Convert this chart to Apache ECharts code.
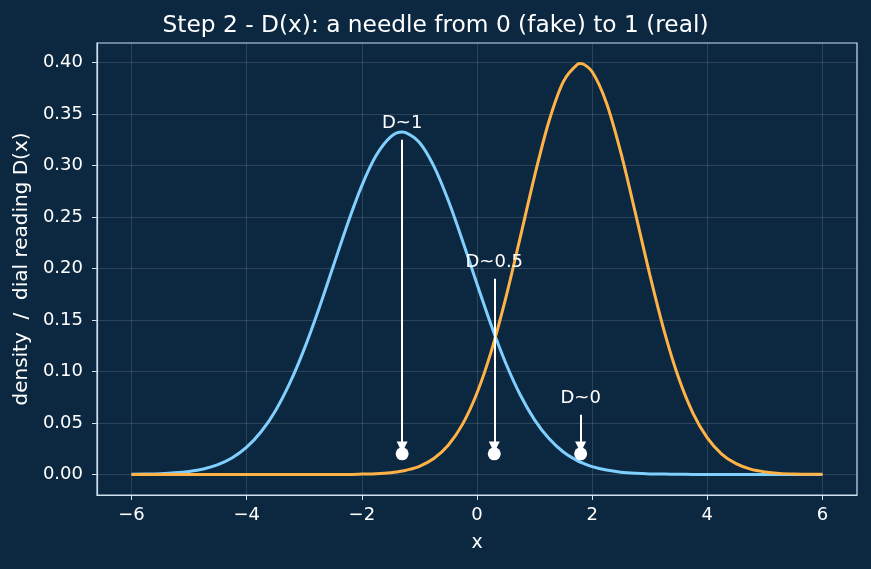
<!DOCTYPE html>
<html>
<head>
<meta charset="utf-8">
<title>Step 2 - D(x)</title>
<script src="https://cdn.jsdelivr.net/npm/echarts@6/dist/echarts.min.js"></script>
<style>
  html, body { margin: 0; padding: 0; background: #0c2840; }
  #chart { width: 871px; height: 569px; }
</style>
</head>
<body>
<div id="chart"></div>
<script>
// sample positions along x (plus the two peaks)
const xValues = [
  -6, -5.75, -5.5, -5.25, -5, -4.75, -4.5, -4.25, -4, -3.75, -3.5, -3.25, -3,
  -2.75, -2.5, -2.25, -2, -1.75, -1.5, -1.3, -1.25, -1, -0.75, -0.5, -0.25, 0,
  0.25, 0.5, 0.75, 1, 1.25, 1.5, 1.75, 1.8, 2, 2.25, 2.5, 2.75, 3, 3.25, 3.5,
  3.75, 4, 4.25, 4.5, 4.75, 5, 5.25, 5.5, 5.75, 6
];
// fake distribution (blue)
const fakeDensity = [
  0.0002, 0.0003, 0.0007, 0.0015, 0.0029, 0.0053, 0.0095, 0.0162, 0.0265, 0.0414, 0.0619, 0.0888, 0.1219,
  0.1602, 0.2016, 0.2430, 0.2804, 0.3098, 0.3278, 0.3324, 0.3321, 0.3222, 0.2993, 0.2662, 0.2267, 0.1849,
  0.1443, 0.1079, 0.0773, 0.0530, 0.0348, 0.0218, 0.0131, 0.0118, 0.0076, 0.0042, 0.0022, 0.0011, 0.0005, 0.0003, 0.0001,
  0, 0, 0, 0, 0, 0, 0, 0, 0, 0
];
// real distribution (orange)
const realDensity = [
  0, 0, 0, 0, 0, 0, 0, 0, 0, 0, 0, 0, 0,
  0, 0, 0, 0.0003, 0.0007, 0.0017, 0.0033, 0.0038, 0.0079, 0.0154, 0.0283, 0.0488, 0.0790,
  0.1200, 0.1714, 0.2299, 0.2897, 0.3429, 0.3814, 0.3984, 0.3989, 0.3910, 0.3605, 0.3122, 0.2541, 0.1942, 0.1394, 0.0940,
  0.0596, 0.0355, 0.0198, 0.0104, 0.0051, 0.0024, 0.0010, 0.0004, 0.0002, 0.0001
];
// needles
const needleLabels = ["D~1", "D~0.5", "D~0"];
const needleX = [-1.3, 0.3, 1.8];
const needleTextY = [0.341, 0.206, 0.074];
const needleStartY = [0.325, 0.19, 0.058];
const needleEndY = [0.0265, 0.0265, 0.0265];
const dotY = [0.02, 0.02, 0.02];

const xTicks = [-6, -4, -2, 0, 2, 4, 6];
const yTicks = [0, 0.05, 0.1, 0.15, 0.2, 0.25, 0.3, 0.35, 0.4];

const textColor = "#ffffff";
const spineColor = "#cfe2f2";
const gridColor = "rgba(255,255,255,0.17)";
const font = "DejaVu Sans";

const chart = echarts.init(document.getElementById("chart"));

const zip = (a, b) => a.map((v, i) => [v, b[i]]);

chart.setOption({
  backgroundColor: "#0c2840",
  animation: false,
  textStyle: { fontFamily: font },
  title: {
    text: "Step 2 - D(x): a needle from 0 (fake) to 1 (real)",
    left: "center",
    top: 9,
    textStyle: { color: textColor, fontSize: 23.3, fontWeight: "normal", fontFamily: font },
  },
  grid: {
    left: 97,
    right: 14,
    top: 43,
    bottom: 74,
    show: true,
    borderColor: spineColor,
    borderWidth: 1.2,
    backgroundColor: "transparent",
  },
  xAxis: {
    type: "value",
    min: -6.6,
    max: 6.6,
    name: "x",
    nameLocation: "middle",
    nameGap: 39,
    nameTextStyle: { color: textColor, fontSize: 19 },
    axisLine: { show: true, onZero: false, lineStyle: { color: spineColor, width: 1.2 } },
    axisTick: { show: true, length: 5, customValues: xTicks, lineStyle: { color: spineColor } },
    axisLabel: {
      color: textColor,
      fontSize: 18,
      margin: 11,
      customValues: xTicks,
      formatter: (v) => (v < 0 ? "\u2212" + Math.abs(v) : String(v)),
    },
    splitLine: { show: true, lineStyle: { color: gridColor, width: 0.8 } },
  },
  yAxis: {
    type: "value",
    min: -0.02,
    max: 0.4189,
    name: "density  /  dial reading D(x)",
    nameLocation: "middle",
    nameGap: 63,
    nameTextStyle: { color: textColor, fontSize: 20 },
    axisLine: { show: true, onZero: false, lineStyle: { color: spineColor, width: 1.2 } },
    axisTick: { show: true, length: 5, customValues: yTicks, lineStyle: { color: spineColor } },
    axisLabel: {
      color: textColor,
      fontSize: 18,
      margin: 14,
      customValues: yTicks,
      formatter: (v) => v.toFixed(2),
    },
    splitLine: { show: true, lineStyle: { color: gridColor, width: 0.8 } },
  },
  series: [
    {
      name: "fake",
      type: "line",
      data: zip(xValues, fakeDensity),
      smooth: 0.3,
      symbol: "none",
      lineStyle: { color: "#7fcfff", width: 3 },
      z: 2,
    },
    {
      name: "real",
      type: "line",
      data: zip(xValues, realDensity),
      smooth: 0.3,
      symbol: "none",
      lineStyle: { color: "#ffb347", width: 3 },
      z: 3,
    },
    {
      name: "needles",
      type: "scatter",
      data: zip(needleX, dotY),
      symbol: "circle",
      symbolSize: 13,
      itemStyle: { color: "#ffffff", opacity: 1 },
      z: 5,
      markLine: {
        silent: true,
        animation: false,
        symbol: ["none", "triangle"],
        symbolSize: [11, 11],
        label: { show: false },
        lineStyle: { color: "#ffffff", width: 2, type: "solid", opacity: 1 },
        itemStyle: { color: "#ffffff" },
        data: needleX.map((x, i) => [
          { coord: [x, needleStartY[i]] },
          { coord: [x, needleEndY[i]] },
        ]),
      },
    },
    {
      name: "needle labels",
      type: "scatter",
      data: needleX.map((x, i) => ({ value: [x, needleTextY[i]], name: needleLabels[i] })),
      symbolSize: 0,
      itemStyle: { opacity: 1 },
      z: 6,
      label: {
        show: true,
        position: "inside",
        formatter: (p) => p.name,
        color: "#ffffff",
        fontSize: 18,
        fontFamily: font,
      },
    },
  ],
});
</script>
</body>
</html>
